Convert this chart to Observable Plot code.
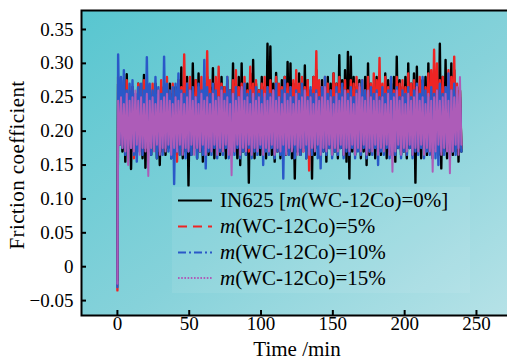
<!DOCTYPE html>
<html>
<head>
<meta charset="utf-8">
<script src="https://cdn.jsdelivr.net/npm/d3@7"></script>
<script src="https://cdn.jsdelivr.net/npm/@observablehq/plot@0.6"></script>
<style>
  html, body { margin: 0; padding: 0; background: #fff; }
  #wrap { position: relative; width: 507px; height: 361px; overflow: hidden; }
  #legend { position: absolute; left: 0; top: 0; pointer-events: none; }
  #wrap svg text { font-family: 'Liberation Serif', 'Times New Roman', serif; font-variant: normal; }
</style>
</head>
<body>
<div id="wrap"></div>
<script>
// ---- Data ----
const seriesNames = ["IN625 [m(WC-12Co)=0%]", "m(WC-12Co)=5%", "m(WC-12Co)=10%", "m(WC-12Co)=15%"];
const seriesColors = ["#000000", "#ee2424", "#2a58c8", "#ad5cb8"];
const sampleStep = 2; // minutes between successive peak samples
const startValues = [-0.02, -0.035, -0.03, -0.025]; // value at t = 0

const in625Hi = [
0.27,0.275,0.26,0.284,0.25,0.265,0.245,0.27,0.255,0.283,
0.25,0.26,0.245,0.27,0.255,0.265,0.25,0.26,0.27,0.255,
0.265,0.275,0.294,0.27,0.28,0.265,0.300,0.275,0.285,0.26,
0.27,0.28,0.265,0.293,0.27,0.255,0.28,0.265,0.275,0.26,
0.300,0.27,0.28,0.300,0.265,0.27,0.285,0.305,0.27,0.26,
0.28,0.265,0.329,0.325,0.27,0.286,0.26,0.275,0.28,0.302,
0.300,0.27,0.26,0.285,0.27,0.297,0.275,0.26,0.28,0.29,
0.265,0.275,0.26,0.28,0.27,0.285,0.27,0.312,0.275,0.29,
0.317,0.31,0.28,0.265,0.275,0.26,0.28,0.300,0.27,0.265,
0.28,0.27,0.26,0.285,0.275,0.27,0.28,0.310,0.275,0.265,
0.28,0.300,0.27,0.285,0.295,0.265,0.275,0.28,0.300,0.27,
0.285,0.275,0.329,0.28,0.305,0.27,0.300,0.29,0.265,0.26];
const in625Lo = [
0.18,0.17,0.155,0.175,0.144,0.17,0.165,0.18,0.16,0.146,
0.175,0.165,0.18,0.16,0.15,0.17,0.165,0.175,0.16,0.17,
0.165,0.175,0.16,0.17,0.120,0.165,0.175,0.16,0.17,0.155,
0.175,0.165,0.17,0.16,0.175,0.165,0.17,0.16,0.175,0.165,
0.17,0.16,0.15,0.17,0.165,0.124,0.17,0.16,0.175,0.165,
0.17,0.16,0.175,0.165,0.155,0.17,0.16,0.175,0.165,0.17,
0.16,0.130,0.17,0.165,0.175,0.16,0.17,0.130,0.165,0.175,
0.16,0.17,0.155,0.175,0.165,0.17,0.16,0.175,0.165,0.155,
0.130,0.17,0.165,0.175,0.16,0.17,0.150,0.165,0.175,0.16,
0.17,0.165,0.175,0.16,0.17,0.165,0.155,0.175,0.165,0.17,
0.16,0.175,0.165,0.124,0.17,0.16,0.175,0.165,0.17,0.16,
0.175,0.165,0.145,0.17,0.16,0.175,0.165,0.17,0.155,0.17];

const wc5Hi = [
0.28,0.27,0.26,0.275,0.255,0.265,0.25,0.27,0.26,0.275,
0.255,0.265,0.27,0.25,0.26,0.275,0.265,0.28,0.255,0.27,
0.26,0.275,0.265,0.313,0.27,0.28,0.26,0.275,0.265,0.28,
0.27,0.318,0.275,0.26,0.28,0.295,0.27,0.265,0.28,0.26,
0.275,0.29,0.265,0.27,0.28,0.26,0.295,0.27,0.275,0.26,
0.27,0.28,0.265,0.275,0.26,0.28,0.27,0.265,0.28,0.27,
0.265,0.275,0.29,0.27,0.28,0.265,0.275,0.26,0.28,0.318,
0.275,0.265,0.28,0.27,0.26,0.285,0.27,0.28,0.265,0.275,
0.26,0.275,0.27,0.28,0.265,0.275,0.26,0.28,0.27,0.285,
0.275,0.308,0.27,0.28,0.265,0.275,0.26,0.28,0.27,0.275,
0.265,0.285,0.27,0.275,0.26,0.28,0.27,0.265,0.285,0.29,
0.32,0.30,0.275,0.28,0.265,0.29,0.28,0.31,0.27,0.26];
const wc5Lo = [
0.19,0.18,0.185,0.175,0.19,0.16,0.185,0.18,0.19,0.175,
0.185,0.18,0.19,0.175,0.185,0.17,0.19,0.18,0.185,0.175,
0.155,0.185,0.18,0.19,0.175,0.185,0.18,0.19,0.175,0.185,
0.18,0.19,0.175,0.185,0.18,0.17,0.19,0.18,0.185,0.175,
0.185,0.18,0.19,0.175,0.185,0.17,0.18,0.19,0.175,0.185,
0.18,0.19,0.175,0.185,0.18,0.17,0.19,0.175,0.185,0.18,
0.19,0.175,0.185,0.18,0.17,0.185,0.142,0.18,0.19,0.175,
0.185,0.18,0.19,0.175,0.185,0.18,0.17,0.19,0.18,0.185,
0.175,0.19,0.18,0.185,0.175,0.19,0.18,0.17,0.185,0.18,
0.19,0.175,0.185,0.18,0.19,0.175,0.185,0.18,0.17,0.19,
0.165,0.185,0.18,0.19,0.175,0.185,0.18,0.19,0.175,0.185,
0.18,0.19,0.175,0.185,0.18,0.17,0.19,0.18,0.185,0.175];

const wc10Hi = [
0.313,0.28,0.29,0.26,0.27,0.275,0.255,0.265,0.27,0.26,
0.309,0.27,0.26,0.28,0.265,0.255,0.31,0.27,0.26,0.265,
0.27,0.285,0.26,0.255,0.27,0.26,0.265,0.25,0.27,0.26,
0.305,0.265,0.255,0.27,0.26,0.25,0.265,0.255,0.28,0.26,
0.255,0.265,0.25,0.26,0.27,0.255,0.26,0.25,0.265,0.255,
0.26,0.25,0.265,0.255,0.26,0.27,0.25,0.26,0.275,0.255,
0.265,0.25,0.26,0.255,0.27,0.26,0.25,0.265,0.255,0.26,
0.25,0.265,0.28,0.255,0.26,0.25,0.265,0.255,0.27,0.26,
0.255,0.265,0.25,0.26,0.255,0.275,0.26,0.25,0.265,0.255,
0.26,0.25,0.265,0.255,0.26,0.28,0.255,0.265,0.25,0.26,
0.255,0.265,0.25,0.26,0.27,0.255,0.28,0.26,0.25,0.265,
0.255,0.26,0.27,0.255,0.265,0.285,0.26,0.27,0.255,0.25];
const wc10Lo = [
0.18,0.175,0.165,0.17,0.175,0.165,0.155,0.17,0.165,0.175,
0.17,0.165,0.175,0.16,0.17,0.165,0.175,0.17,0.16,0.122,
0.17,0.165,0.175,0.16,0.17,0.165,0.175,0.16,0.17,0.165,
0.145,0.17,0.165,0.175,0.16,0.17,0.165,0.175,0.16,0.17,
0.165,0.175,0.16,0.17,0.165,0.175,0.16,0.17,0.165,0.175,
0.15,0.17,0.165,0.175,0.16,0.17,0.165,0.13,0.17,0.165,
0.175,0.16,0.17,0.165,0.175,0.16,0.17,0.165,0.175,0.16,
0.145,0.17,0.165,0.175,0.16,0.17,0.165,0.175,0.16,0.17,
0.165,0.175,0.16,0.17,0.165,0.175,0.16,0.17,0.165,0.175,
0.15,0.17,0.165,0.175,0.16,0.17,0.165,0.175,0.16,0.17,
0.165,0.175,0.16,0.17,0.165,0.175,0.16,0.17,0.165,0.175,
0.16,0.15,0.17,0.165,0.175,0.16,0.17,0.165,0.175,0.17];

const wc15Hi = [
0.245,0.25,0.24,0.255,0.245,0.25,0.26,0.245,0.25,0.24,
0.255,0.245,0.25,0.24,0.26,0.245,0.25,0.255,0.245,0.24,
0.25,0.245,0.255,0.24,0.25,0.26,0.245,0.25,0.24,0.255,
0.245,0.25,0.24,0.255,0.245,0.25,0.26,0.245,0.25,0.24,
0.255,0.245,0.25,0.265,0.245,0.25,0.24,0.255,0.245,0.25,
0.24,0.255,0.245,0.25,0.26,0.245,0.25,0.24,0.255,0.245,
0.25,0.24,0.255,0.245,0.25,0.26,0.245,0.25,0.24,0.255,
0.245,0.25,0.265,0.245,0.25,0.24,0.255,0.245,0.25,0.26,
0.245,0.25,0.24,0.255,0.27,0.25,0.245,0.26,0.25,0.245,
0.255,0.245,0.25,0.24,0.255,0.245,0.25,0.26,0.245,0.25,
0.24,0.255,0.245,0.25,0.265,0.245,0.25,0.24,0.255,0.245,
0.25,0.26,0.245,0.25,0.255,0.245,0.26,0.25,0.265,0.28];
const wc15Lo = [
0.18,0.175,0.17,0.15,0.175,0.17,0.18,0.165,0.175,0.17,
0.134,0.175,0.17,0.18,0.165,0.175,0.17,0.18,0.165,0.175,
0.17,0.18,0.165,0.175,0.17,0.18,0.165,0.175,0.17,0.18,
0.165,0.175,0.17,0.18,0.165,0.175,0.17,0.18,0.165,0.135,
0.17,0.18,0.165,0.175,0.17,0.18,0.165,0.175,0.17,0.18,
0.165,0.175,0.17,0.18,0.165,0.175,0.17,0.18,0.165,0.175,
0.17,0.18,0.165,0.175,0.17,0.18,0.165,0.175,0.17,0.18,
0.165,0.175,0.17,0.18,0.165,0.175,0.17,0.18,0.165,0.175,
0.17,0.18,0.165,0.175,0.17,0.18,0.165,0.175,0.17,0.18,
0.165,0.175,0.17,0.18,0.165,0.14,0.17,0.18,0.165,0.175,
0.17,0.18,0.165,0.175,0.17,0.18,0.165,0.175,0.17,0.14,
0.17,0.18,0.165,0.175,0.17,0.138,0.17,0.18,0.165,0.18];

const xTicks = [0, 50, 100, 150, 200, 250];
const xTickLabels = ["0", "50", "100", "150", "200", "250"];
const yTicks = [-0.05, 0, 0.05, 0.10, 0.15, 0.20, 0.25, 0.30, 0.35];
const yTickLabels = ["\u22120.05", "0", "0.05", "0.10", "0.15", "0.20", "0.25", "0.30", "0.35"];

// ---- Build tidy rows ----
const hiSets = [in625Hi, wc5Hi, wc10Hi, wc15Hi];
const loSets = [in625Lo, wc5Lo, wc10Lo, wc15Lo];
const lineWidths = [2.4, 2.4, 2.4, 2.0];
const rows = hiSets.map((hi, s) => {
  const out = [{t: 0, v: startValues[s]}];
  hi.forEach((h, i) => {
    out.push({t: i * sampleStep + 0.5, v: h});
    out.push({t: i * sampleStep + 1.5, v: loSets[s][i]});
  });
  return out;
});

const font = "'Liberation Serif', 'Times New Roman', serif";

const plot = Plot.plot({
  width: 507,
  height: 361,
  marginLeft: 81,
  marginRight: -2,
  marginTop: 10,
  marginBottom: 46,
  style: {fontFamily: font, fontSize: "19px", background: "transparent", color: "#000"},
  x: {domain: [-25, 273]},
  y: {domain: [-0.072, 0.378]},
  marks: [
    Plot.frame({fill: "url(#bgGrad)"}),
    ...rows.map((r, s) => Plot.line(r, {x: "t", y: "v", stroke: seriesColors[s], strokeWidth: lineWidths[s]})),
    Plot.axisX({ticks: xTicks, tickFormat: (d) => xTickLabels[xTicks.indexOf(d)], tickSize: -5, tickPadding: 6, strokeWidth: 2,
      label: null, fontSize: 19, fontFamily: font}),
    Plot.axisY({ticks: yTicks, tickFormat: (d) => yTickLabels[yTicks.indexOf(d)], tickSize: -5, tickPadding: 13, strokeWidth: 2,
      label: null, fontSize: 19, fontFamily: font}),
    Plot.frame({stroke: "#000", strokeWidth: 2})
  ]
});

const svg = d3.select(plot);
const defs = svg.insert("defs", ":first-child");
const grad = defs.append("linearGradient").attr("id", "bgGrad")
  .attr("x1", 0).attr("y1", 0).attr("x2", 1).attr("y2", 1);
grad.append("stop").attr("offset", "0%").attr("stop-color", "#58c6d0");
grad.append("stop").attr("offset", "55%").attr("stop-color", "#86d2da");
grad.append("stop").attr("offset", "100%").attr("stop-color", "#b6e2e7");

// axis titles
svg.append("text").attr("x", 297).attr("y", 356).attr("text-anchor", "middle")
  .attr("font-family", font).attr("font-size", 21).attr("fill", "#000").text("Time /min");
svg.append("text").attr("transform", "translate(24,165) rotate(-90)").attr("text-anchor", "middle")
  .attr("font-family", font).attr("font-size", 21).attr("letter-spacing", 0.4).attr("fill", "#000").text("Friction coefficient");

const wrap = document.getElementById("wrap");
wrap.appendChild(plot);

// ---- Legend overlay ----
const legendDash = [null, "9,6", "8,3,2,3", "1.6,1.6"];
const rowBase = [207, 233, 259, 284.5];
const lg = d3.select(wrap).append("svg").attr("id", "legend").attr("width", 507).attr("height", 361);
lg.append("rect").attr("x", 172).attr("y", 187).attr("width", 298).attr("height", 106)
  .attr("fill", "rgba(255,255,255,0.08)");
seriesNames.forEach((name, s) => {
  const cy = rowBase[s] - 6.5;
  const ln = lg.append("line").attr("x1", 178).attr("x2", 212).attr("y1", cy).attr("y2", cy)
    .attr("stroke", seriesColors[s]).attr("stroke-width", 2);
  if (legendDash[s]) ln.attr("stroke-dasharray", legendDash[s]);
  const tx = lg.append("text").attr("x", 220).attr("y", rowBase[s])
    .attr("font-family", font).attr("font-size", 21).attr("fill", "#000");
  const mi = name.indexOf("m(");
  tx.append("tspan").text(name.slice(0, mi));
  tx.append("tspan").attr("font-style", "italic").text("m");
  tx.append("tspan").text(name.slice(mi + 1));
});
</script>
</body>
</html>
